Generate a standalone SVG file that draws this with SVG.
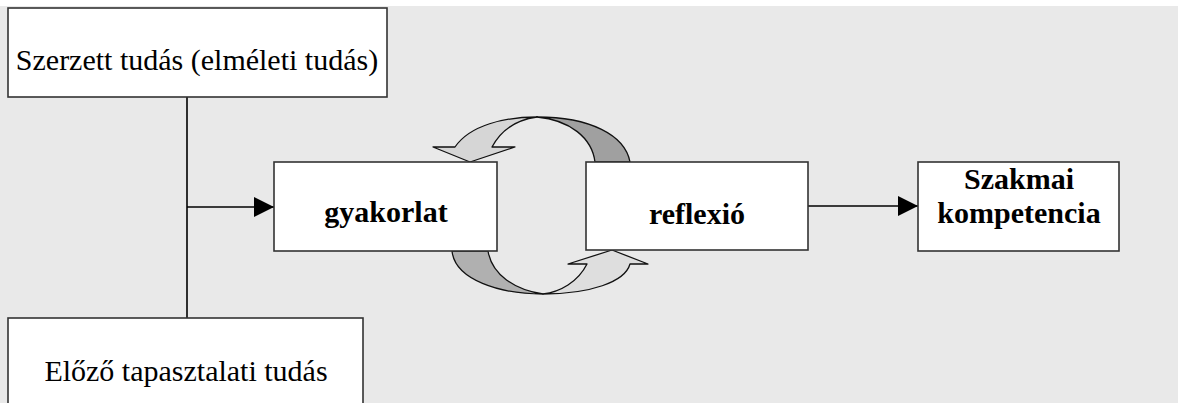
<svg xmlns="http://www.w3.org/2000/svg" width="1178" height="403" viewBox="0 0 1178 403">
<defs>
<style>
.box{fill:#ffffff;stroke:#333333;stroke-width:1.6}
.t{font-family:"Liberation Serif","Times New Roman",serif;fill:#000000;text-anchor:middle}
.n{font-size:30px}
.b{font-size:30px;font-weight:bold}
.ln{stroke:#000000;stroke-width:1.6;fill:none}
.rib{stroke:#111111;stroke-width:1.3;stroke-linejoin:round}
</style>
<marker id="ah" viewBox="0 0 20 20" refX="20" refY="10" markerWidth="20" markerHeight="20" markerUnits="userSpaceOnUse" orient="auto">
<path d="M0,0 L20,10 L0,20 Z" fill="#000000"/>
</marker>
</defs>
<rect x="0" y="0" width="1178" height="403" fill="#ffffff"/>
<rect x="0" y="6" width="1178" height="397" fill="#e9e9e9"/>
<g id="connectors">
<line class="ln" x1="187" y1="97" x2="187" y2="318"/>
<line class="ln" x1="187" y1="207" x2="274" y2="207" marker-end="url(#ah)"/>
<line class="ln" x1="808" y1="206" x2="918" y2="206" marker-end="url(#ah)"/>
<g id="loop-top">
<path class="rib" fill="#d6d6d6" d="M455,147 L433,147 L470,162 L515,147 L492,147 C500,132 515,120 537,117 C505,117 470,125 455,147 Z"/>
<path class="rib" fill="#a0a0a0" d="M537,117 C590,117 625,135 630,162 L595,162 C592,138 570,120 537,117 Z"/>
</g>
<g id="loop-bottom">
<path class="rib" fill="#b0b0b0" d="M452,251 C455,280 500,294 543,294 C515,290 492,275 488,251 Z"/>
<path class="rib" fill="#dedede" d="M543,294 C590,294 625,282 630,264 L648,264 L612,250 L568,264 L587,264 C578,282 560,292 543,294 Z"/>
</g>
</g>
<g id="node-szerzett">
<rect class="box" x="8" y="8" width="379" height="89"/>
<text class="t n" x="197" y="70">Szerzett tudás (elméleti tudás)</text>
</g>
<g id="node-elozo">
<rect class="box" x="8" y="318" width="355" height="95"/>
<text class="t n" x="186" y="381">Előző tapasztalati tudás</text>
</g>
<g id="node-gyakorlat">
<rect class="box" x="274" y="162" width="223" height="89"/>
<text class="t b" x="386" y="222">gyakorlat</text>
</g>
<g id="node-reflexio">
<rect class="box" x="586" y="162" width="222" height="88"/>
<text class="t b" x="697" y="224">reflexió</text>
</g>
<g id="node-szakmai">
<rect class="box" x="918" y="162" width="201" height="89"/>
<text class="t b" x="1019" y="189">Szakmai</text>
<text class="t b" x="1019" y="223">kompetencia</text>
</g>
</svg>
